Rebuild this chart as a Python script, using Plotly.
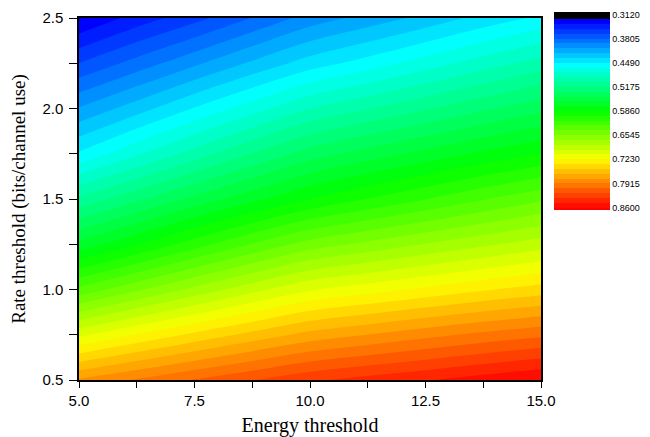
import plotly.graph_objects as go

# Energy threshold (x) and rate threshold (y) grid
energy = [5.0, 6.25, 7.5, 8.75, 10.0, 11.25, 12.5, 13.75, 15.0]
rate = [0.5, 0.75, 1.0, 1.25, 1.5, 1.75, 2.0, 2.25, 2.5]

# values, one row per rate threshold (bottom to top)
row_r050 = [0.780, 0.793, 0.806, 0.818, 0.830, 0.838, 0.845, 0.853, 0.860]
row_r075 = [0.706, 0.724, 0.740, 0.755, 0.769, 0.778, 0.787, 0.795, 0.802]
row_r100 = [0.631, 0.652, 0.672, 0.691, 0.708, 0.717, 0.726, 0.735, 0.743]
row_r125 = [0.563, 0.585, 0.607, 0.628, 0.647, 0.658, 0.669, 0.679, 0.689]
row_r150 = [0.507, 0.528, 0.549, 0.568, 0.586, 0.600, 0.613, 0.626, 0.638]
row_r175 = [0.451, 0.474, 0.496, 0.518, 0.538, 0.551, 0.563, 0.575, 0.586]
row_r200 = [0.409, 0.429, 0.450, 0.470, 0.490, 0.503, 0.516, 0.529, 0.541]
row_r225 = [0.367, 0.386, 0.405, 0.424, 0.442, 0.455, 0.469, 0.483, 0.496]
row_r250 = [0.325, 0.345, 0.362, 0.381, 0.400, 0.413, 0.426, 0.440, 0.452]

# colour bar tick labels
cbar_ticks = [0.3120, 0.3805, 0.4490, 0.5175, 0.5860, 0.6545, 0.7230, 0.7915, 0.8600]

zmin, zmax = 0.312, 0.86
n_bands = 40

rows = [row_r050, row_r075, row_r100, row_r125, row_r150,
        row_r175, row_r200, row_r225, row_r250]
# colour bar in the reference runs from low (top) to high (bottom): plot -z
w = [[-v for v in r] for r in rows]

cs = (zmax - zmin) / n_bands
start = -zmax
nc = n_bands + 1


def t_of(zval):
    t = (((-zval) - start) / cs + 0.5) / nc
    return min(max(t, 0.0), 1.0)


key = [
    (0.860, "rgb(255,0,0)"),
    (0.723, "rgb(255,255,0)"),
    (0.586, "rgb(0,255,0)"),
    (0.455, "rgb(0,255,255)"),
    (0.3325, "rgb(0,0,255)"),
]
colorscale = [[0.0, "rgb(255,0,0)"]]
for zv, col in key:
    colorscale.append([t_of(zv), col])
tb = t_of(0.3325)
colorscale.append([tb + 0.01, "rgb(0,0,0)"])
colorscale.append([1.0, "rgb(0,0,0)"])

# the page body has an 8px margin: lay the figure out in page pixels minus 8
OFF = 8
W, H = 650 - OFF, 437 - OFF
px_l, px_r, px_t, px_b = 79 - OFF, 541 - OFF, 18 - OFF, 380 - OFF
plot_w, plot_h = px_r - px_l, px_b - px_t

fig = go.Figure()
fig.add_trace(go.Contour(
    x=energy, y=rate, z=w,
    contours=dict(start=start, end=-zmin + cs * 1e-3, size=cs,
                  coloring="fill", showlines=False),
    line=dict(width=0),
    colorscale=colorscale,
    colorbar=dict(
        tickvals=[-v for v in cbar_ticks],
        ticktext=["%.4f" % v for v in cbar_ticks],
        ticks="",
        tickfont=dict(family="Liberation Sans, Arial", size=9, color="black"),
        thicknessmode="pixels", thickness=56,
        lenmode="pixels", len=198,
        x=(554 - 79) / plot_w, xanchor="left", xpad=0,
        y=(380 - 12) / plot_h, yanchor="top", ypad=0,
        outlinewidth=0,
    ),
    hoverinfo="skip",
))

axis_common = dict(
    showline=True, linecolor="black", linewidth=1.5, mirror=True,
    ticks="outside", tickwidth=1.2, tickcolor="black",
    showgrid=False, zeroline=False, automargin=False,
    tickfont=dict(family="Liberation Sans, Arial", size=15, color="black"),
)

fig.update_layout(
    width=W, height=H,
    margin=dict(l=px_l, r=W - px_r, t=px_t, b=H - px_b, autoexpand=False),
    paper_bgcolor="white", plot_bgcolor="white",
    xaxis=dict(
        range=[5, 15], tickvals=[5, 7.5, 10, 12.5, 15], tickformat=".1f",
        ticklen=6,
        minor=dict(dtick=1.25, tick0=5, ticks="outside", ticklen=6,
                   tickwidth=1.2, tickcolor="black", showgrid=False),
        title=dict(text="Energy threshold", standoff=12,
                   font=dict(family="Liberation Serif, Times New Roman", size=20, color="black")),
        **axis_common,
    ),
    yaxis=dict(
        range=[0.5, 2.5], tickvals=[0.5, 1.0, 1.5, 2.0, 2.5], tickformat=".1f",
        ticklen=8, ticklabelstandoff=3,
        minor=dict(dtick=0.25, tick0=0.5, ticks="outside", ticklen=8,
                   tickwidth=1.2, tickcolor="black", showgrid=False),
        title=dict(text="Rate threshold (bits/channel use)", standoff=18,
                   font=dict(family="Liberation Serif, Times New Roman", size=19, color="black")),
        **axis_common,
    ),
)

fig.write_html("out.html")
